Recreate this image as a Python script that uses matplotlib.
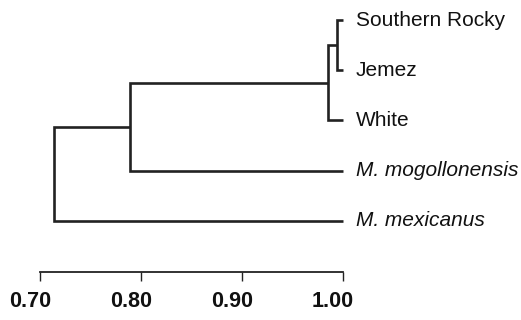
import numpy as np
import matplotlib
matplotlib.use('Agg')
import matplotlib.pyplot as plt
import matplotlib.transforms as mtransforms

plt.rcParams['font.family'] = ['Liberation Sans', 'DejaVu Sans']

# leaves, top to bottom
leaves = ['Southern Rocky', 'Jemez', 'White', 'M. mogollonensis', 'M. mexicanus']
italic = [False, False, False, True, True]
# merges: (child a, child b, similarity); children are leaf index or 'nN' for node N
merges = [(0, 1, 0.994),
          ('n0', 2, 0.985),
          ('n1', 3, 0.789),
          ('n2', 4, 0.714)]
ticks = [0.70, 0.80, 0.90, 1.00]
tick_labels = ['0.70', '0.80', '0.90', '1.00']

# pixel layout: 0.70 at x=40px, 1.00 at x=343px; leaves ~50px apart starting y=20px
px_per_unit = 1010.
fig = plt.figure(figsize=(5.21, 3.2), dpi=100)
ax = fig.add_axes([0, 0, 1, 1])
ax.set_xlim(0.70 - 40 / px_per_unit, 0.70 + 481 / px_per_unit)
ax.set_ylim((320 - 20) / 50.25, -20 / 50.25)

lc = '#222222'
lw = 1.9

pos = {}
for i in range(len(leaves)):
    pos[i] = (1.0, float(i))

for k, (a, b, h) in enumerate(merges):
    xa, ya = pos[a]
    xb, yb = pos[b]
    ax.plot([xa, h, h, xb], [ya, ya, yb, yb], color=lc, lw=lw,
            solid_capstyle='butt', solid_joinstyle='miter')
    pos['n%d' % k] = (h, (ya + yb) / 2.)

for i, name in enumerate(leaves):
    ax.text(1.0 + 13 / px_per_unit, i, name, va='center', ha='left',
            fontsize=15, color='#111111',
            style='italic' if italic[i] else 'normal')

# scale bar
for s in ['top', 'right', 'left']:
    ax.spines[s].set_visible(False)
ax.spines['bottom'].set_position(('data', (272 - 20) / 50.25))
ax.spines['bottom'].set_bounds(0.70, 1.00)
ax.spines['bottom'].set_linewidth(1.3)
ax.spines['bottom'].set_color(lc)
ax.set_yticks([])
ax.set_xticks(ticks)
ax.set_xticklabels(tick_labels, fontsize=15.5, fontweight='bold', color='#111111')
ax.tick_params(axis='x', direction='out', length=6.5, width=1.0, color=lc, pad=7)
shift = mtransforms.ScaledTranslation(-10 / 100., 0, fig.dpi_scale_trans)
for lab in ax.get_xticklabels():
    lab.set_transform(lab.get_transform() + shift)

fig.savefig('out.png', dpi=100)
